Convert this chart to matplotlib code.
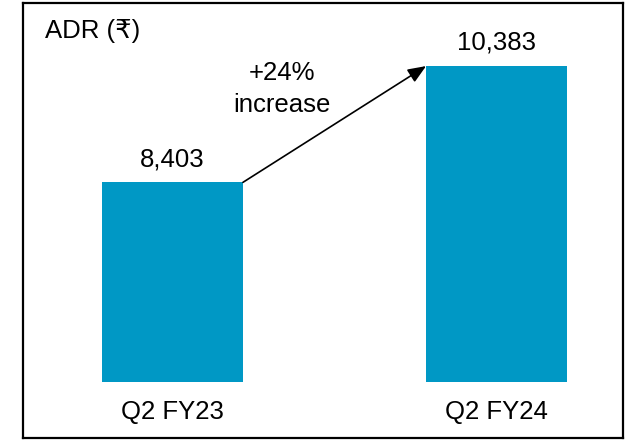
import matplotlib
matplotlib.use("Agg")
import matplotlib.pyplot as plt
import numpy as np

plt.rcParams["font.family"] = ["Liberation Sans", "DejaVu Sans"]

categories = ["Q2 FY23", "Q2 FY24"]
adr_values = [8403, 10383]
value_labels = ["8,403", "10,383"]
change_label = "+24%\nincrease"
axis_title = "ADR (₹)"
baseline = 5000

BAR_COLOR = "#0098c5"
BAR_WIDTH = 0.435
FS = 18.5

fig = plt.figure(figsize=(6.28, 4.40), dpi=100)
ax = fig.add_axes([23 / 628, 2 / 440, 600 / 628, 435 / 440])

x = np.arange(len(categories))
vals = np.array(adr_values)
ax.bar(x, vals - baseline, bottom=baseline, width=BAR_WIDTH, color=BAR_COLOR)

for xi, v, lab in zip(x, vals, value_labels):
    ax.annotate(lab, (xi, v), xytext=(0, 8), textcoords="offset points",
                ha="center", va="bottom", fontsize=FS)

for xi, cat in zip(x, categories):
    ax.text(xi, 4494, cat, ha="center", va="center", fontsize=FS)

ax.annotate("", xy=(x[1] - BAR_WIDTH / 2, vals[1]), xytext=(x[0] + BAR_WIDTH / 2, vals[0]),
            arrowprops=dict(arrowstyle="-|>,head_length=1.1,head_width=0.45", color="black",
                            lw=1.2, shrinkA=0, shrinkB=0))
ax.text(0.338, 10000, change_label, ha="center", va="center", fontsize=FS, linespacing=1.42)

ax.text(0.037, 0.935, axis_title, transform=ax.transAxes, ha="left", va="center", fontsize=FS)

ax.set_xlim(-0.461, 1.39)
ax.set_ylim(4050, 11457)
ax.set_xticks([])
ax.set_yticks([])
for s in ax.spines.values():
    s.set_linewidth(1.6)
    s.set_color("black")

fig.savefig("out.png", dpi=100)
